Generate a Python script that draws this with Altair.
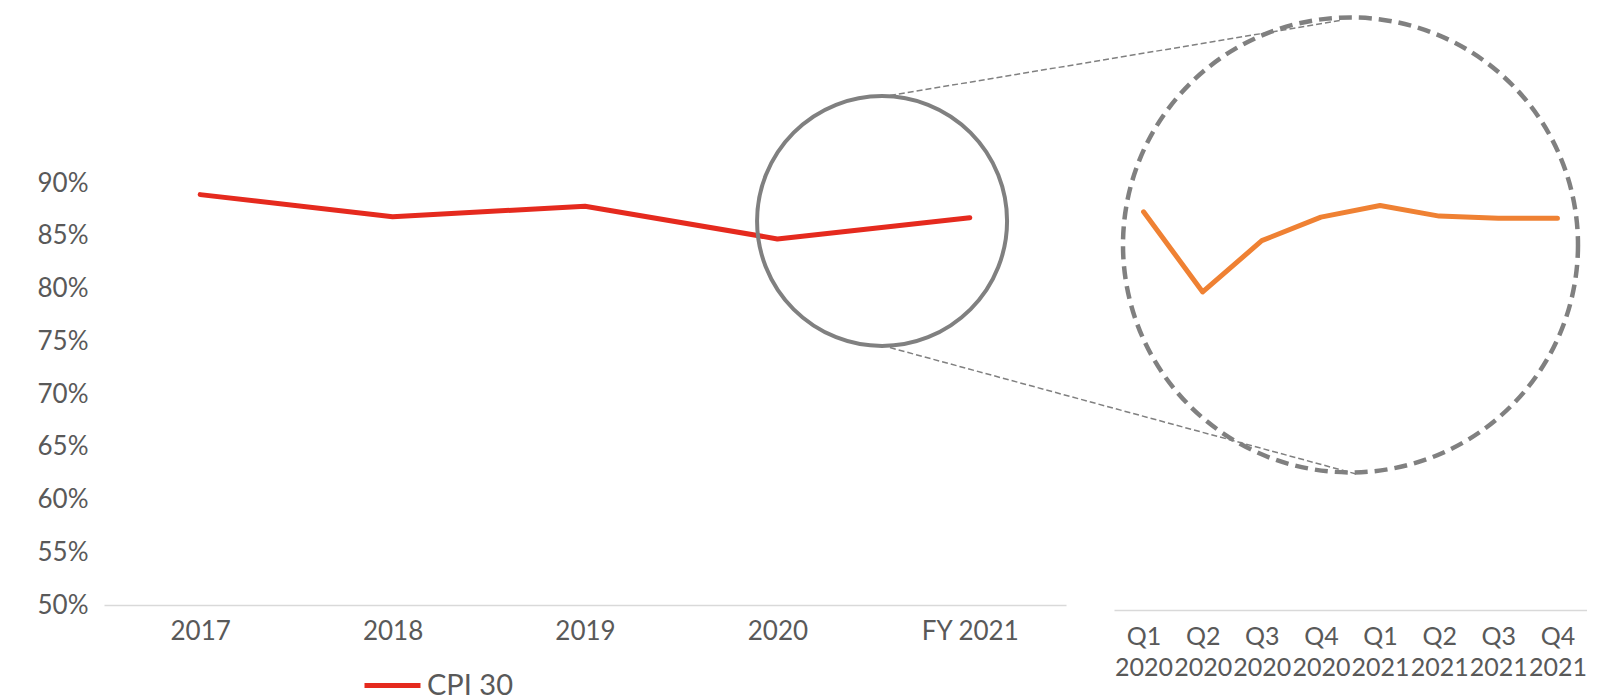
import json
import altair as alt
import pandas as pd

# ---------------- data ----------------
years = ["2017", "2018", "2019", "2020", "FY 2021"]
cpi30_annual = [0.889, 0.868, 0.878, 0.847, 0.867]

quarters = ["Q1 2020", "Q2 2020", "Q3 2020", "Q4 2020",
            "Q1 2021", "Q2 2021", "Q3 2021", "Q4 2021"]
cpi30_quarterly = [0.873, 0.798, 0.846, 0.868, 0.879, 0.869, 0.867, 0.867]

series_name = "CPI 30"
y_ticks = [0.50, 0.55, 0.60, 0.65, 0.70, 0.75, 0.80, 0.85, 0.90]

# ---------------- styling ----------------
FONT = "Lato"
TXT = "#595959"
RED = "#E52A1E"
ORANGE = "#EF8133"
GREY = "#808080"
AXIS_LINE = "#D9D9D9"

annual = pd.DataFrame({"idx": list(range(len(years))), "value": cpi30_annual,
                       "series": [series_name] * len(years)})
quarterly = pd.DataFrame({"idx": list(range(len(quarters))), "value": cpi30_quarterly})

# magnifier annotations (data coordinates of each panel)
lens_small = pd.DataFrame({"idx": [3.544], "value": [0.864]})
lens_big = pd.DataFrame({"idx": [3.5], "value": [0.842]})
connectors = pd.DataFrame({"idx": [3.585, 3.585], "value": [0.983, 0.744],
                           "idx2": [5.924, 6.012], "value2": [1.054, 0.624]})

# ---------------- left panel ----------------
xL_scale = alt.Scale(domain=[-0.5, len(years) - 0.5], nice=False, zero=False)
yL_scale = alt.Scale(domain=[0.5, 1.0621], nice=False, zero=False)

xL_axis = alt.Axis(values=list(range(len(years))),
                   labelExpr=json.dumps(years) + "[datum.value]",
                   title=None, grid=False, ticks=False, tickSize=0,
                   domain=True, domainColor=AXIS_LINE, domainWidth=1.5,
                   labelPadding=13, labelFontSize=26, labelColor=TXT, labelFont=FONT,
                   labelFlush=False, labelOverlap=False)
yL_axis = alt.Axis(values=y_ticks, format=".0%", title=None, grid=False,
                   ticks=False, tickSize=0, domain=False, labelPadding=16,
                   labelFontSize=26, labelColor=TXT, labelFont=FONT,
                   labelFlush=False, labelOverlap=False)

def XL(f):
    return alt.X(f"{f}:Q", scale=xL_scale, axis=xL_axis)

def YL(f):
    return alt.Y(f"{f}:Q", scale=yL_scale, axis=yL_axis)

line_annual = alt.Chart(annual).mark_line(
    strokeWidth=5, strokeCap="round", strokeJoin="round"
).encode(
    x=XL("idx"), y=YL("value"),
    color=alt.Color("series:N",
                    scale=alt.Scale(domain=[series_name], range=[RED]),
                    legend=alt.Legend(title=None, orient="none", legendX=258, legendY=643,
                                      symbolType="stroke", symbolSize=3136,
                                      symbolStrokeWidth=5, labelFontSize=29,
                                      labelColor=TXT, labelFont=FONT, labelOffset=4,
                                      padding=0)),
)

small_circle = alt.Chart(lens_small).mark_point(
    shape="circle", filled=False, size=62500, stroke=GREY, strokeWidth=4, opacity=1
).encode(x=XL("idx"), y=YL("value"))

connector_rules = alt.Chart(connectors).mark_rule(
    color=GREY, strokeWidth=1.5, strokeDash=[6, 3]
).encode(x=XL("idx"), y=YL("value"), x2=alt.X2("idx2"), y2=alt.Y2("value2"))

left = alt.layer(line_annual, connector_rules, small_circle).properties(width=962, height=593)

# ---------------- right panel ----------------
xR_scale = alt.Scale(domain=[-0.5, len(quarters) - 0.5], nice=False, zero=False)
yR_scale = alt.Scale(domain=[0.5, 1.0602], nice=False, zero=False)

xR_axis = alt.Axis(values=list(range(len(quarters))),
                   labelExpr="split(" + json.dumps(quarters) + "[datum.value], ' ')",
                   title=None, grid=False, ticks=False, tickSize=0,
                   domain=True, domainColor=AXIS_LINE, domainWidth=1.5,
                   labelPadding=14, labelFontSize=25, labelLineHeight=31,
                   labelColor=TXT, labelFont=FONT, labelFlush=False, labelOverlap=False)

def XR(f):
    return alt.X(f"{f}:Q", scale=xR_scale, axis=xR_axis)

def YR(f):
    return alt.Y(f"{f}:Q", scale=yR_scale, axis=None)

line_quarterly = alt.Chart(quarterly).mark_line(
    color=ORANGE, strokeWidth=5, strokeCap="round", strokeJoin="round"
).encode(x=XR("idx"), y=YR("value"))

big_circle = alt.Chart(lens_big).mark_point(
    shape="circle", filled=False, size=207025, stroke=GREY, strokeWidth=4.5,
    strokeDash=[13, 7], opacity=1
).encode(x=XR("idx"), y=YR("value"))

right = alt.layer(line_quarterly, big_circle).properties(width=473, height=598)

chart = alt.hconcat(left, right, spacing=48, bounds="flush").properties(
    padding={"left": 29, "top": 0, "right": 0, "bottom": 0},
    background="white",
).configure_view(stroke=None)

chart.save("out.html", embed_options={"renderer": "svg", "actions": False})
